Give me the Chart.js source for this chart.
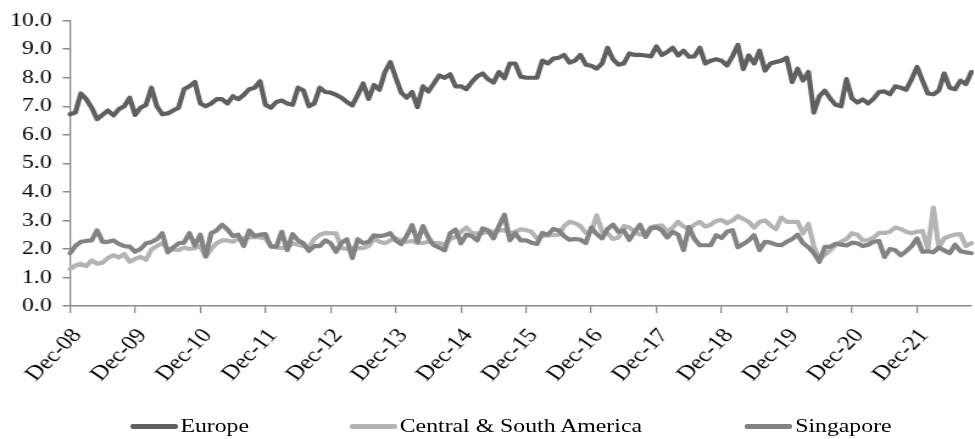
<!DOCTYPE html>
<html>
<head>
<meta charset="utf-8">
<script src="https://cdn.jsdelivr.net/npm/chart.js@4.4.1/dist/chart.umd.min.js"></script>
<style>
  html, body { margin: 0; padding: 0; background: #fff; }
  #wrap { position: relative; width: 975px; height: 439px; overflow: hidden; }
  #inner { position: absolute; left: 0; top: 0; width: 800px; height: 439px; transform: scaleX(1.21875); transform-origin: 0 0; }
  #c { position: absolute; left: 0; top: 0; }
  .lg { position: absolute; top: 412px; font-family: "Liberation Serif", "Times New Roman", serif; font-size: 19.5px; color: #000; white-space: nowrap; line-height: 28px; }
  .lg span.sw { display: inline-block; width: 39px; height: 5px; vertical-align: middle; margin-right: 2.5px; position: relative; top: -1px; border-radius: 2px; }
</style>
</head>
<body>
<div id="wrap">
 <div id="inner">
  <canvas id="c" width="800" height="439"></canvas>
  <div class="lg" style="left:106.5px"><span class="sw" style="background:#606060"></span>Europe</div>
  <div class="lg" style="left:286.5px"><span class="sw" style="background:#b4b4b4"></span>Central &amp; South America</div>
  <div class="lg" style="left:611px"><span class="sw" style="background:#838383"></span>Singapore</div>
 </div>
</div>
<script>
// Monthly series, Dec-08 onwards
const europe = [
  6.72,6.78,7.45,7.25,6.95,6.55,6.70,6.85,6.68,6.90,7.00,7.30,
  6.70,6.95,7.05,7.65,7.00,6.72,6.75,6.85,6.95,7.60,7.70,7.85,
  7.10,7.00,7.10,7.25,7.25,7.10,7.35,7.25,7.40,7.60,7.65,7.88,
  7.05,6.95,7.15,7.20,7.10,7.05,7.65,7.55,7.00,7.10,7.65,7.50,
  7.48,7.40,7.30,7.15,7.03,7.40,7.80,7.26,7.75,7.58,8.20,8.55,
  8.00,7.48,7.30,7.50,6.97,7.70,7.52,7.80,8.08,8.00,8.12,7.70,
  7.70,7.60,7.85,8.05,8.15,7.95,7.83,8.20,7.98,8.50,8.50,8.04,
  8.00,8.00,8.00,8.60,8.50,8.67,8.70,8.80,8.53,8.60,8.80,8.46,
  8.42,8.32,8.50,9.05,8.65,8.46,8.50,8.85,8.80,8.80,8.78,8.75,
  9.10,8.80,8.90,9.05,8.78,8.95,8.74,8.75,9.05,8.50,8.60,8.65,
  8.60,8.43,8.75,9.15,8.30,8.78,8.50,8.95,8.25,8.50,8.55,8.60,
  8.70,7.85,8.32,7.90,8.20,6.78,7.35,7.55,7.27,7.05,7.00,7.95,
  7.28,7.13,7.24,7.10,7.27,7.50,7.52,7.42,7.70,7.65,7.58,7.95,
  8.38,7.90,7.45,7.42,7.55,8.15,7.65,7.60,7.90,7.78,8.20
];
const centralSouthAmerica = [
  1.30,1.42,1.48,1.40,1.60,1.48,1.52,1.68,1.78,1.70,1.82,1.55,
  1.65,1.72,1.62,1.98,2.10,2.20,2.00,1.98,1.96,2.05,2.00,2.03,
  2.10,1.72,2.00,2.20,2.30,2.30,2.25,2.35,2.38,2.40,2.42,2.40,
  2.37,2.10,2.05,2.03,2.05,2.20,2.15,2.10,2.05,2.35,2.50,2.56,
  2.55,2.55,2.03,2.00,2.03,2.03,2.03,2.10,2.37,2.25,2.20,2.30,
  2.37,2.30,2.25,2.28,2.20,2.21,2.25,2.20,2.21,2.15,2.34,2.42,
  2.60,2.75,2.55,2.55,2.55,2.60,2.60,2.65,2.66,2.55,2.60,2.69,
  2.66,2.60,2.37,2.45,2.48,2.48,2.50,2.80,2.95,2.90,2.80,2.56,
  2.60,3.18,2.60,2.55,2.35,2.40,2.80,2.75,2.60,2.50,2.55,2.77,
  2.80,2.83,2.60,2.75,2.95,2.78,2.70,2.85,2.95,2.78,2.85,2.98,
  3.02,2.90,3.00,3.15,3.05,2.95,2.75,2.95,3.00,2.83,2.69,3.10,
  2.95,2.95,2.95,2.55,2.88,2.10,1.62,1.80,1.95,2.15,2.25,2.35,
  2.55,2.50,2.30,2.30,2.40,2.56,2.56,2.60,2.75,2.70,2.60,2.55,
  2.60,2.63,2.00,3.45,2.05,2.37,2.45,2.50,2.52,2.10,2.20
];
const singapore = [
  1.85,2.10,2.25,2.28,2.30,2.65,2.25,2.25,2.30,2.18,2.10,2.08,
  1.90,2.00,2.20,2.24,2.34,2.55,1.88,2.05,2.20,2.22,2.55,2.12,
  2.50,1.75,2.55,2.65,2.85,2.68,2.45,2.50,2.10,2.65,2.45,2.50,
  2.52,2.08,2.08,2.60,1.96,2.52,2.30,2.20,1.93,2.10,2.10,2.30,
  2.20,1.90,2.22,2.34,1.68,2.34,2.20,2.25,2.48,2.45,2.48,2.55,
  2.30,2.17,2.45,2.83,2.25,2.80,2.40,2.13,2.05,1.95,2.55,2.68,
  2.20,2.50,2.45,2.30,2.72,2.65,2.37,2.80,3.20,2.30,2.55,2.30,
  2.30,2.22,2.17,2.56,2.50,2.70,2.65,2.45,2.32,2.35,2.32,2.21,
  2.75,2.52,2.37,2.70,2.85,2.60,2.65,2.32,2.60,2.85,2.42,2.72,
  2.76,2.65,2.40,2.60,2.50,1.96,2.77,2.35,2.13,2.13,2.13,2.48,
  2.38,2.60,2.66,2.06,2.17,2.30,2.48,1.96,2.25,2.22,2.15,2.13,
  2.25,2.35,2.50,2.20,2.06,1.85,1.55,2.07,2.08,2.18,2.15,2.12,
  2.22,2.20,2.10,2.15,2.25,2.28,1.72,2.00,1.95,1.78,1.92,2.10,
  2.37,1.90,1.92,1.88,2.05,1.95,1.85,2.15,1.92,1.88,1.85
];
const monthNames = ['Jan','Feb','Mar','Apr','May','Jun','Jul','Aug','Sep','Oct','Nov','Dec'];
const startYear = 2008, startMonth = 11; // Dec-08
const labels = europe.map((_, i) => {
  const m = (startMonth + i) % 12;
  const y = startYear + Math.floor((startMonth + i) / 12);
  return monthNames[m] + '-' + String(y % 100).padStart(2, '0');
});
const yTicks = [0,1,2,3,4,5,6,7,8,9,10];

const AXIS = '#8a8a8a';
const FONT = { family: '"Liberation Serif", "Times New Roman", serif', size: 19.5 };
const XFONT = { family: '"Liberation Serif", "Times New Roman", serif', size: 20.5 };

new Chart(document.getElementById('c'), {
  type: 'line',
  data: {
    labels: labels,
    datasets: [
      { label: 'Europe', data: europe, borderColor: '#606060', borderWidth: 4.2, order: 2 },
      { label: 'Central & South America', data: centralSouthAmerica, borderColor: '#b4b4b4', borderWidth: 4.2, order: 1 },
      { label: 'Singapore', data: singapore, borderColor: '#838383', borderWidth: 4.2, order: 0 }
    ]
  },
  options: {
    responsive: false,
    animation: false,
    devicePixelRatio: 1,
    elements: { point: { radius: 0 }, line: { tension: 0, borderJoinStyle: 'round', borderCapStyle: 'round' } },
    layout: { padding: { top: 20, right: 3, left: 0, bottom: 0 } },
    plugins: { legend: { display: false }, tooltip: { enabled: false } },
    scales: {
      x: {
        type: 'category',
        offset: false,
        border: { color: AXIS, width: 1.5 },
        grid: {
          drawOnChartArea: false,
          drawTicks: true,
          tickLength: 7,
          lineWidth: 1.3,
          color: (ctx) => (ctx.index % 12 === 0 ? AXIS : 'rgba(0,0,0,0)')
        },
        ticks: {
          autoSkip: false,
          maxRotation: 50.6,
          minRotation: 50.6,
          padding: 11,
          labelOffset: 6,
          color: '#000',
          font: XFONT,
          callback: function (v, i) { return i % 12 === 0 ? labels[i] : ''; }
        },
        afterFit: (s) => { s.height = 133; s.paddingRight = 0; }
      },
      y: {
        min: 0,
        max: 10,
        afterBuildTicks: (s) => { s.ticks = yTicks.map(v => ({ value: v })); },
        border: { color: AXIS, width: 1.3 },
        grid: { drawOnChartArea: false, drawTicks: true, tickLength: 6, lineWidth: 1.5, color: AXIS },
        ticks: {
          padding: 9,
          color: '#000',
          font: FONT,
          callback: (v) => Number(v).toFixed(1)
        },
        afterFit: (s) => { s.width = 57.4; }
      }
    }
  }
});
</script>
</body>
</html>
